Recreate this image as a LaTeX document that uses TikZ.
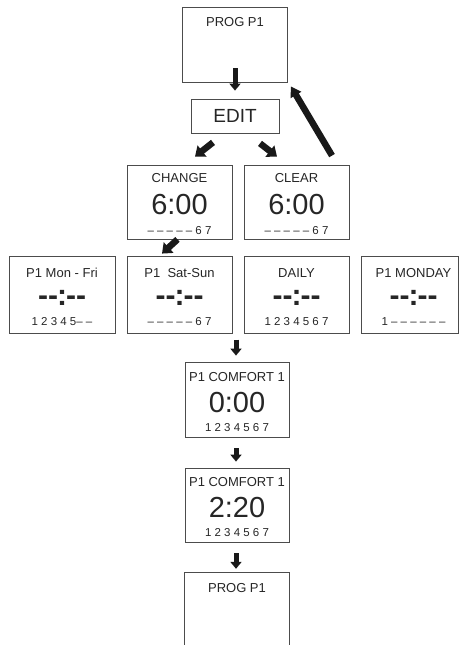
\documentclass[tikz,border=0pt]{standalone}
\usepackage{fontspec}
\setmainfont{Liberation Sans}
\usetikzlibrary{arrows.meta}
\tikzset{
  lcd/.style={draw=black!70, line width=0.8pt, minimum width=105pt, minimum height=75pt, inner sep=0pt},
  ttl/.style={font=\fontsize{13}{13}\selectfont, text=black!85, inner sep=0pt},
  big/.style={font=\fontsize{29}{29}\selectfont, text=black!85, inner sep=0pt},
  nil/.style={font=\fontsize{30}{30}\selectfont\bfseries, text=black!85, inner sep=0pt},
  days/.style={font=\fontsize{11.5}{11.5}\selectfont, text=black!85, inner sep=0pt},
  blk/.style={line width=5pt, color=black!90, -{Triangle[width=11pt,length=7pt]}},
  blkd/.style={line width=6.5pt, color=black!90, -{Triangle[width=14pt,length=9pt]}},
  blkl/.style={line width=6.5pt, color=black!90, -{Triangle[width=12pt,length=10pt]}},
}
\newcommand{\blank}{-{}-\kern-1pt:\kern-1pt-{}-}
\begin{document}
\begin{tikzpicture}[x=1pt,y=-1pt]
  \useasboundingbox (0,0) rectangle (459,645);
  % displays
  \node[lcd] (prog) at (235,44.5) {};
  \node[lcd, minimum width=88pt, minimum height=34pt, font=\fontsize{19}{19}\selectfont, text=black!85] (edit) at (235,116) {EDIT};
  \node[lcd, minimum height=74pt] (change) at (179.5,202) {};
  \node[lcd, minimum height=74pt] (clear) at (296.5,202) {};
  \node[lcd, minimum width=106pt, minimum height=77pt] (monfri) at (62,294.5) {};
  \node[lcd, minimum height=77pt] (satsun) at (179.5,294.5) {};
  \node[lcd, minimum height=77pt] (daily) at (296.5,294.5) {};
  \node[lcd, minimum width=97pt, minimum height=77pt] (monday) at (409.5,294.5) {};
  \node[lcd, minimum width=104pt] (comfa) at (237,399.5) {};
  \node[lcd, minimum width=104pt, minimum height=74pt] (comfb) at (237,505) {};
  % last display runs off the page
  \node[minimum width=104pt, minimum height=72pt, inner sep=0pt] (progend) at (237,609) {};
  \draw[draw=black!70, line width=0.8pt] (progend.south west) -- (progend.north west)
    -- (progend.north east) -- (progend.south east);
  % texts
  \node[ttl] (prog-t) at (235,22) {PROG P1};
  \node[ttl] (change-t) at (179.5,178) {CHANGE};
  \node[big] (change-h) at (179.5,205) {6:00};
  \node[days] (change-d) at (179.5,231) {– – – – – 6 7};
  \node[ttl] (clear-t) at (296.5,178) {CLEAR};
  \node[big] (clear-h) at (296.5,205) {6:00};
  \node[days] (clear-d) at (296.5,231) {– – – – – 6 7};
  \node[ttl] (monfri-t) at (62,273) {P1 Mon - Fri};
  \node[nil] (monfri-h) at (62,298) {\blank};
  \node[days] (monfri-d) at (62,322) {1 2 3 4 5– –};
  \node[ttl] (satsun-t) at (179.5,273) {P1\ \ Sat-Sun};
  \node[nil] (satsun-h) at (179.5,298) {\blank};
  \node[days] (satsun-d) at (179.5,322) {– – – – – 6 7};
  \node[ttl] (daily-t) at (296.5,273) {DAILY};
  \node[nil] (daily-h) at (296.5,298) {\blank};
  \node[days] (daily-d) at (296.5,322) {1 2 3 4 5 6 7};
  \node[ttl] (monday-t) at (413.5,273) {P1 MONDAY};
  \node[nil] (monday-h) at (413.5,298) {\blank};
  \node[days] (monday-d) at (413.5,322) {1 – – – – – –};
  \node[ttl] (comfa-t) at (237,377) {P1 COMFORT 1};
  \node[big] (comfa-h) at (237,403) {0:00};
  \node[days] (comfa-d) at (237,428) {1 2 3 4 5 6 7};
  \node[ttl] (comfb-t) at (237,482) {P1 COMFORT 1};
  \node[big] (comfb-h) at (237,508) {2:20};
  \node[days] (comfb-d) at (237,533) {1 2 3 4 5 6 7};
  \node[ttl] (progend-t) at (237,588) {PROG P1};
  % arrows
  \draw[blk] ([yshift=14pt]prog.south) -- ([yshift=8pt]edit.north);
  \draw[blkd] ([xshift=-22pt,yshift=-9pt]edit.south) -- ([xshift=15.5pt,yshift=8pt]change.north);
  \draw[blkd] ([xshift=25pt,yshift=-10pt]edit.south) -- ([xshift=-19.5pt,yshift=8pt]clear.north);
  \draw[blkl] ([xshift=35.5pt,yshift=9pt]clear.north) -- ([xshift=3pt,yshift=-4pt]prog.south east);
  \draw[blkd] ([xshift=-2pt]change.south) -- ([xshift=-17.5pt,yshift=2pt]satsun.north);
  \draw[blk] ([xshift=-1pt,yshift=22pt]comfa.north) -- ([xshift=-1pt,yshift=6pt]comfa.north);
  \draw[blk] ([xshift=-1pt,yshift=-11pt]comfa.south) -- ([xshift=-1pt,yshift=6pt]comfb.north);
  \draw[blk] ([xshift=-1pt,yshift=-11pt]comfb.south) -- ([xshift=-1pt,yshift=4pt]progend.north);
\end{tikzpicture}
\end{document}
